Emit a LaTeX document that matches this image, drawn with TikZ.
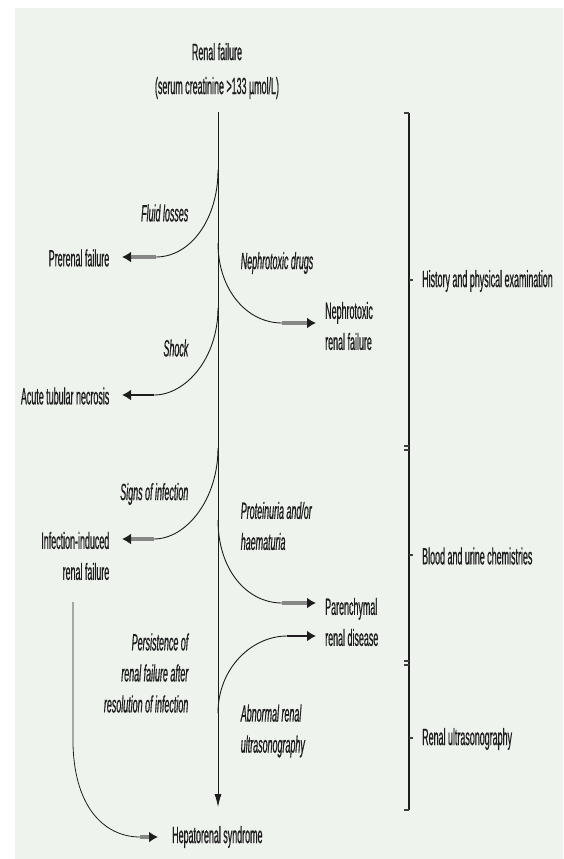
\documentclass[tikz,border=0pt]{standalone}
\usepackage{fontspec}
\setmainfont{Liberation Sans}[FakeStretch=0.38,FakeBold=0.6]
\usetikzlibrary{arrows.meta}
\definecolor{bg}{RGB}{238,244,237}
\definecolor{ink}{RGB}{30,28,30}
\definecolor{bandgray}{RGB}{135,135,135}
\begin{document}
\begin{tikzpicture}[x=1pt,y=-1pt,
  lbl/.style={font=\fontsize{23.5}{31}\selectfont, text=ink, inner sep=0pt},
  ital/.style={font=\fontsize{23.5}{31}\selectfont\itshape, text=ink, inner sep=0pt},
  curve/.style={draw=ink, line width=0.9pt},
  band/.style={draw=bandgray, line width=3.5pt, -{Latex[length=9pt,width=11pt,color=ink]}},
  bandk/.style={draw=ink, line width=2.2pt, -{Latex[length=9pt,width=11pt,color=ink]}},
  brk/.style={draw=ink, line width=1.3pt},
  tick/.style={draw=ink!85, line width=2.2pt}]
\useasboundingbox (0,0) rectangle (563,859);
\fill[white] (0,0) rectangle (563,859);
\fill[bg] (15,8) rectangle (563,859);

% labels
\node[lbl, align=center, font=\fontsize{23.5}{34}\selectfont] (title) at (217,71) {Renal failure\\(serum creatinine >133 µmol/L)};
\node[ital, anchor=east] (fluid) at (188.5,213) {Fluid losses};
\node[lbl, anchor=east] (prerenal) at (109.5,258) {Prerenal failure};
\node[ital, anchor=west] (nephdrug) at (240.6,263) {Nephrotoxic drugs};
\node[lbl, anchor=west, align=left] (nephrf) at (325,326) {Nephrotoxic\\renal failure};
\node[ital, anchor=east] (shock) at (188.5,348) {Shock};
\node[lbl, anchor=east] (atn) at (109.5,396) {Acute tubular necrosis};
\node[ital, anchor=east] (signs) at (188.5,494) {Signs of infection};
\node[lbl, anchor=east, align=right] (infect) at (109.5,556) {Infection-induced\\renal failure};
\node[ital, anchor=west, align=left] (prot) at (240.6,526) {Proteinuria and/or\\haematuria};
\node[lbl, anchor=west, align=left] (paren) at (325,622) {Parenchymal\\renal disease};
\node[ital, anchor=east, align=right] (persist) at (188.5,673) {Persistence of\\renal failure after\\resolution of infection};
\node[ital, anchor=west, align=left] (abn) at (240.6,731) {Abnormal renal\\ultrasonography};
\node[lbl, anchor=west] (hep) at (172,837) {Hepatorenal syndrome};
\node[lbl, anchor=west] (hist) at (422,281) {History and physical examination};
\node[lbl, anchor=west] (blood) at (422,556) {Blood and urine chemistries};
\node[lbl, anchor=west] (us) at (422,739) {Renal ultrasonography};

% main line
\coordinate (m0) at (218,112);
\coordinate (m1) at (218,807);
\draw[curve, -{Latex[length=13pt,width=7pt]}] (m0) -- (m1);

% branch points
\coordinate (bf) at (218,170);
\coordinate (bn) at (218,243);
\coordinate (bs) at (218,308);
\coordinate (bi) at (218,448);
\coordinate (bp) at (218,520);
\coordinate (ba) at (218,713);

% tips
\coordinate (tf) at (122,257);
\coordinate (tn) at (316,323);
\coordinate (ts) at (122,395);
\coordinate (ti) at (122,539);
\coordinate (tp) at (316,603);
\coordinate (ta) at (316,636);
\coordinate (th) at (158,837);

% fluid losses
\draw[curve] (bf) .. controls (218,220) and (190,257) .. (156,257) coordinate (ef);
\draw[band] (ef) -- (tf);
% nephrotoxic
\draw[curve] (bn) .. controls (218,290) and (247,323) .. (282,323) coordinate (en);
\draw[band] (en) -- (tn);
% shock
\draw[curve] (bs) .. controls (218,358) and (186,395) .. (154,395) coordinate (es);
\draw[bandk] (es) -- (ts);
% signs of infection
\draw[curve] (bi) .. controls (218,500) and (186,539) .. (154,539) coordinate (ei);
\draw[band] (ei) -- (ti);
% proteinuria
\draw[curve] (bp) .. controls (218,570) and (247,603) .. (282,603) coordinate (ep);
\draw[band] (ep) -- (tp);
% abnormal ultrasonography
\draw[curve] (ba) .. controls (218,668) and (252,636) .. (287,636) coordinate (ea);
\draw[bandk] (ea) -- (ta);
% persistence
\coordinate (ps) at (73,602);
\draw[curve, line width=0.8pt] (ps) -- (73,745) .. controls (75,812) and (108,837) .. (140,837) coordinate (eh);
\draw[band] (eh) -- (th);

% bracket
\draw[brk] (409,113) -- (409,810);
\draw[tick] (404,113) -- (409,113);
\draw[tick] (404,446) -- (409,446);
\draw[tick] (404,450) -- (409,450);
\draw[tick] (404,661) -- (409,661);
\draw[tick] (404,665) -- (409,665);
\draw[tick] (404,810) -- (409,810);
\draw[tick] (409,280) -- (413,280);
\draw[tick] (409,555) -- (413,555);
\draw[tick] (409,738) -- (413,738);
\end{tikzpicture}
\end{document}
